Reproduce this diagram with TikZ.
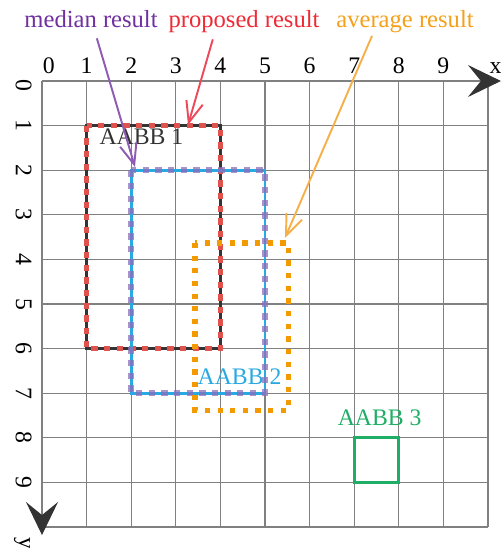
\documentclass[tikz,border=0pt]{standalone}
\usepackage{fontspec}
\setmainfont{Liberation Serif}
\usetikzlibrary{arrows.meta,calc}
\definecolor{MedPurple}{HTML}{7030A0}
\definecolor{MedLine}{HTML}{8E5BB5}
\definecolor{PropRed}{HTML}{EE2A35}
\definecolor{PropLine}{HTML}{EC4A5A}
\definecolor{AvgOrange}{HTML}{F5A01A}
\definecolor{AvgLine}{HTML}{F6B04A}
\definecolor{BoxBlue}{HTML}{29A9E1}
\definecolor{BoxRed}{HTML}{E0524D}
\definecolor{BoxPurple}{HTML}{8D6DB8}
\definecolor{BoxOrange}{HTML}{F39A00}
\definecolor{BoxGreen}{HTML}{1FAE66}
\definecolor{AxisGray}{HTML}{333333}

\begin{document}
\begin{tikzpicture}[x=0.892cm,y=-0.892cm,
 lbl/.style={font=\fontsize{13.5}{16}\selectfont,inner sep=0pt},
 toplbl/.style={font=\fontsize{14}{16}\selectfont,inner sep=0pt,anchor=base},
 gridline/.style={black!50,line width=0.6pt},
 axis/.style={gridline,-{Stealth[length=0.66cm,width=0.64cm,inset=0.26cm,color=AxisGray]}},
 callout/.style={line width=1.1pt,-{Straight Barb[length=0.42cm,width=0.34cm]}},
 aabbsolid/.style={line width=1.7pt},
 aabbdash/.style={line width=3.2pt,dash pattern=on 3.6pt off 3.6pt}]
\useasboundingbox (-0.9417,-1.8161) rectangle (10.3139,10.4709);
% grid and axes
\foreach \i in {0,...,10} {
  \draw[gridline] (\i,0) -- (\i,10);
  \draw[gridline] (0,\i) -- (10,\i);
}
\coordinate (origin) at (0,0);
\coordinate (xtip) at (10.29,0);
\coordinate (ytip) at (0,10.18);
\draw[axis] (origin) -- (xtip);
\draw[axis] (origin) -- (ytip);
\node[lbl,anchor=base] (xl0) at (0.15,-0.16) {0};
\foreach \i in {1,...,9}
  \node[lbl,anchor=base] (xl\i) at (\i,-0.16) {\i};
\node[lbl,anchor=base east] (xname) at (10.31,-0.16) {x};
\node[lbl,rotate=-90] (yl0) at (-0.41,0.09) {0};
\foreach \i in {1,...,9}
  \node[lbl,rotate=-90] (yl\i) at (-0.41,\i) {\i};
\node[lbl,rotate=-90] (yname) at (-0.45,10.36) {y};
% boxes
\draw[aabbsolid,AxisGray] (1,1) rectangle (4,6);
\draw[aabbdash,BoxRed] (1,1) rectangle (4,6);
\draw[aabbsolid,BoxBlue] (2,2) rectangle (5,7);
\draw[aabbdash,BoxPurple,opacity=0.75] (2,2) rectangle (5,7);
\draw[BoxOrange,line width=3pt,dash pattern=on 3pt off 4.2pt] (3.43,3.63) rectangle (5.52,7.38);
\draw[aabbsolid,BoxGreen] (7,8) rectangle (8,9);
\node[lbl,text=AxisGray] (aabb1) at (2.23,1.25) {AABB 1};
\node[lbl,text=BoxBlue] (aabb2) at (4.43,6.63) {AABB 2};
\node[lbl,text=BoxGreen] (aabb3) at (7.57,7.54) {AABB 3};
% results
\node[toplbl,text=MedPurple] (median) at (1.10,-1.19) {median result};
\node[toplbl,text=PropRed] (proposed) at (4.53,-1.19) {proposed result};
\node[toplbl,text=AvgOrange] (average) at (8.14,-1.19) {average result};
\coordinate (medtip) at (2.085,1.928);
\coordinate (proptip) at (3.274,0.987);
\coordinate (avgtip) at (5.448,3.52);
\draw[callout,MedLine] ($(median.south)+(0.13,0.22)$) -- (medtip);
\draw[callout,PropLine] ($(proposed.south)+(-0.70,0.13)$) -- (proptip);
\draw[callout,AvgLine] ($(average.south)+(-0.74,0.05)$) -- (avgtip);
\end{tikzpicture}
\end{document}
